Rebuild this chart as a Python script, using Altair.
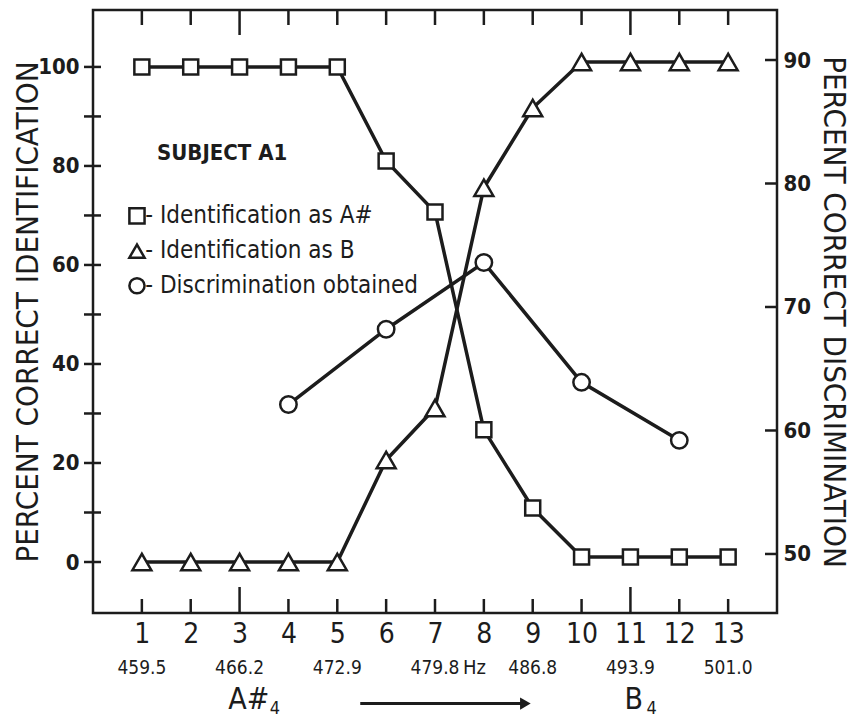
import altair as alt
import pandas as pd

# ---------------- data ----------------
stimulus = list(range(1, 14))
ident_a_sharp = [100, 100, 100, 100, 100, 81, 70.7, 26.7, 10.9, 1, 1, 1, 1]
ident_b = [0, 0, 0, 0, 0, 20.6, 31.1, 75.6, 91.7, 101, 101, 101, 101]

disc_stimulus = [4, 6, 8, 10, 12]
discrimination = [62.1, 68.2, 73.6, 63.9, 59.2]

freq_stimulus = [1, 3, 5, 7, 9, 11, 13]
freq_labels = ["459.5", "466.2", "472.9", "479.8", "486.8", "493.9", "501.0"]

left_tick_values = [0, 10, 20, 30, 40, 50, 60, 70, 80, 90, 100]
left_label_values = [0, 20, 40, 60, 80, 100]
right_tick_values = [50, 60, 70, 80, 90]
major_stimuli = [3, 11]

legend_text = ["- Identification as A#", "- Identification as B", "- Discrimination obtained"]
legend_shape = ["square", "triangle-up", "circle"]
legend_y = [69.9, 62.8, 55.8]

# ---------------- styling ----------------
INK = "#1c1c1c"
FONT = "DejaVu Sans Condensed, DejaVu Sans, sans-serif"
W, H = 684, 603
X_DOM = [0, 14]
YL_DOM = [-10.3, 111.5]
YR_DOM = [45.22, 94.05]
PX_L = H / (YL_DOM[1] - YL_DOM[0])   # pixels per left unit
PX_X = W / (X_DOM[1] - X_DOM[0])

xscale = alt.Scale(domain=X_DOM, nice=False, zero=False)
ylscale = alt.Scale(domain=YL_DOM, nice=False, zero=False)
yrscale = alt.Scale(domain=YR_DOM, nice=False, zero=False)

xaxis = alt.Axis(values=stimulus, ticks=False, tickSize=0, domain=False, grid=False,
                 labelFontSize=28, labelFont=FONT, labelColor=INK, labelPadding=7,
                 format="d", title=None, labelFlush=False)
ylaxis = alt.Axis(values=left_label_values, ticks=False, tickSize=0, domain=False, grid=False,
                  labelFontSize=22, labelFont=FONT, labelFontWeight="bold", labelColor=INK,
                  labelPadding=14, title="PERCENT CORRECT IDENTIFICATION", titleFont=FONT,
                  titleFontSize=31, titleFontWeight="normal", titleColor=INK,
                  titleX=-56, titleBaseline="alphabetic", titleAngle=270)
yraxis = alt.Axis(orient="right", values=right_tick_values, ticks=False, tickSize=0, domain=False,
                  grid=False, labelFontSize=22, labelFont=FONT, labelFontWeight="bold",
                  labelColor=INK, labelPadding=6, title="PERCENT CORRECT DISCRIMINATION",
                  titleFont=FONT, titleFontSize=31, titleFontWeight="normal", titleColor=INK,
                  titleX=46, titleBaseline="alphabetic", titleAngle=90)


def X(field="x"):
    return alt.X(f"{field}:Q", scale=xscale, axis=xaxis)


def YL(field="y"):
    return alt.Y(f"{field}:Q", scale=ylscale, axis=ylaxis)


def YR(field="y"):
    return alt.Y(f"{field}:Q", scale=yrscale, axis=yraxis)


# ---------------- tables ----------------
df_a = pd.DataFrame({"x": stimulus, "y": ident_a_sharp})
df_b = pd.DataFrame({"x": stimulus, "y": ident_b})
df_d = pd.DataFrame({"x": disc_stimulus, "y": discrimination})

bottom_len = [(26 if s in major_stimuli else 14) / PX_L for s in stimulus]
top_len = [(25 if s in major_stimuli else 15) / PX_L for s in stimulus]
df_bt = pd.DataFrame({"x": [float(s) for s in stimulus], "y": [YL_DOM[0]] * 13,
                      "y2": [YL_DOM[0] + L for L in bottom_len]})
df_tt = pd.DataFrame({"x": [float(s) for s in stimulus], "y": [YL_DOM[1]] * 13,
                      "y2": [YL_DOM[1] - L for L in top_len]})
df_lt = pd.DataFrame({"x": [X_DOM[0] - 9 / PX_X] * 11, "x2": [X_DOM[0] + 8 / PX_X] * 11,
                      "y": [float(v) for v in left_tick_values]})
df_rt = pd.DataFrame({"x": [X_DOM[1] - 12 / PX_X] * 5, "x2": [X_DOM[1] + 0.0] * 5,
                      "y": [float(v) for v in right_tick_values]})

df_freq = pd.DataFrame({"x": freq_stimulus, "y": [-21.4] * 7, "text": freq_labels})
df_hz = pd.DataFrame({"x": [7], "y": [-21.4], "text": ["Hz"]})
df_note = pd.DataFrame({"x": [2.77, 10.88], "y": [-29.6, -29.6], "text": ["A#", "B"]})
df_sub = pd.DataFrame({"x": [3.62, 11.33], "y": [-30.6, -30.6], "text": ["4", "4"]})
df_arrow = pd.DataFrame({"x": [5.47], "x2": [8.8], "y": [-28.6]})
df_head = pd.DataFrame({"x": [8.85], "y": [-28.6]})

df_subj = pd.DataFrame({"x": [1.31], "y": [82.6], "text": ["SUBJECT A1"]})
df_leg = pd.DataFrame({"x": [0.9] * 3, "y": legend_y, "shape": legend_shape})
df_legt = pd.DataFrame({"x": [1.07] * 3, "y": legend_y, "text": legend_text})

# ---------------- marks ----------------
tick_kw = dict(color=INK, strokeWidth=2.5)
bt = alt.Chart(df_bt).mark_rule(**tick_kw).encode(x=X(), y=YL(), y2="y2")
tt = alt.Chart(df_tt).mark_rule(**tick_kw).encode(x=X(), y=YL(), y2="y2")
lt = alt.Chart(df_lt).mark_rule(**tick_kw).encode(x=X(), x2="x2", y=YL())

line_kw = dict(color=INK, strokeWidth=3.5)
line_a = alt.Chart(df_a).mark_line(**line_kw).encode(x=X(), y=YL())
line_b = alt.Chart(df_b).mark_line(**line_kw).encode(x=X(), y=YL())

pt_kw = dict(filled=True, fill="white", stroke=INK, strokeWidth=2.5, opacity=1, fillOpacity=1)
pts_a = alt.Chart(df_a).mark_point(shape="square", size=225, **pt_kw).encode(x=X(), y=YL())
pts_b = alt.Chart(df_b).mark_point(shape="triangle-up", size=360, **pt_kw).encode(x=X(), y=YL())

freq_text = alt.Chart(df_freq).mark_text(font=FONT, fontSize=19, color=INK, align="center",
                                         baseline="middle").encode(x=X(), y=YL(), text="text:N")
hz_text = alt.Chart(df_hz).mark_text(font=FONT, fontSize=20, color=INK, align="left",
                                     baseline="middle", dx=28).encode(x=X(), y=YL(), text="text:N")
note_text = alt.Chart(df_note).mark_text(font=FONT, fontSize=30, color=INK, align="left",
                                         baseline="alphabetic").encode(x=X(), y=YL(), text="text:N")
sub_text = alt.Chart(df_sub).mark_text(font=FONT, fontSize=18, color=INK, align="left",
                                       baseline="alphabetic").encode(x=X(), y=YL(), text="text:N")
arrow = alt.Chart(df_arrow).mark_rule(color=INK, strokeWidth=3).encode(x=X(), x2="x2:Q", y=YL())
arrow_head = alt.Chart(df_head).mark_point(shape="triangle-right", size=150, filled=True,
                                           color=INK, opacity=1).encode(x=X(), y=YL())

subj_text = alt.Chart(df_subj).mark_text(font=FONT, fontSize=22, fontWeight="bold", color=INK,
                                         align="left", baseline="middle").encode(
    x=X(), y=YL(), text="text:N")
leg_sym = alt.Chart(df_leg).mark_point(size=230, **pt_kw).encode(
    x=X(), y=YL(),
    shape=alt.Shape("shape:N", scale=alt.Scale(domain=legend_shape, range=legend_shape), legend=None))
leg_text = alt.Chart(df_legt).mark_text(font=FONT, fontSize=24, color=INK, align="left",
                                        baseline="middle").encode(x=X(), y=YL(), text="text:N")

left = alt.layer(line_a, line_b, pts_a, pts_b,
                 freq_text, hz_text, note_text, sub_text, arrow, arrow_head,
                 subj_text, leg_sym, leg_text, bt, tt, lt)

rt = alt.Chart(df_rt).mark_rule(**tick_kw).encode(x=X(), x2="x2", y=YR())
line_d = alt.Chart(df_d).mark_line(**line_kw).encode(x=X(), y=YR())
pts_d = alt.Chart(df_d).mark_point(shape="circle", size=270, **pt_kw).encode(x=X(), y=YR())
right = alt.layer(line_d, pts_d, rt)

chart = alt.layer(left, right).resolve_scale(y="independent").properties(
    width=W, height=H,
    autosize=alt.AutoSizeParams(type="none"),
    padding={"left": 85, "top": 2, "right": 76, "bottom": 104},
    background="white",
).configure_view(stroke=INK, strokeWidth=2.5)

chart.save("out.html", embed_options={"renderer": "svg", "actions": False})
